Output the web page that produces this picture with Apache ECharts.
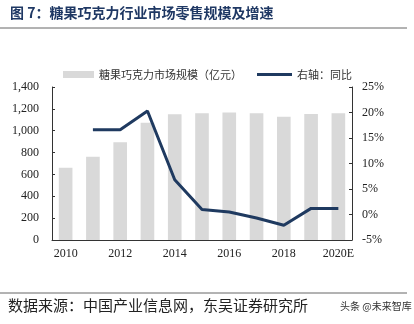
<!DOCTYPE html>
<html><head><meta charset="utf-8">
<script src="https://cdn.jsdelivr.net/npm/echarts@6/dist/echarts.min.js"></script>
<style>html,body{margin:0;padding:0;background:#fff}#c{width:414px;height:324px}</style>
</head><body><div id="c"></div>
<script>
const categories = ['2010','2011','2012','2013','2014','2015','2016','2017','2018','2019','2020E'];
const marketSize = [660, 762, 894, 1073, 1150, 1159, 1166, 1159, 1128, 1153, 1159];
const growth = [null, 16.6, 16.6, 20.3, 6.8, 1.0, 0.5, -0.7, -2.1, 1.2, 1.2];
const leftTicks = [0, 1400, 200];
const rightTicks = [-5, 25, 5];
const seriesNames = ['糖果巧克力市场规模（亿元）', '右轴：同比'];

const chart = echarts.init(document.getElementById('c'));
const serif = '"Liberation Serif","DejaVu Serif",serif';
const cjk = '"Noto Sans CJK SC",sans-serif';
const legendText = {fontFamily: cjk, fontSize: 11, color: '#333'};
chart.setOption({
  animation: false,
  legend: [{
    left: 58, top: 64, itemGap: 14,
    itemWidth: 31, itemHeight: 7,
    textStyle: legendText,
    data: [{name: seriesNames[0], icon: 'rect'}]
  }, {
    left: 252, top: 64,
    itemWidth: 35, itemHeight: 3,
    textStyle: legendText,
    data: [{name: seriesNames[1], icon: 'rect'}]
  }],
  grid: {left: 52, right: 62, top: 87, bottom: 84},
  xAxis: {
    type: 'category', data: categories,
    axisLine: {lineStyle: {color: '#333', width: 1}},
    axisTick: {inside: true, length: 4, lineStyle: {color: '#333'}},
    axisLabel: {interval: 1, fontFamily: serif, fontSize: 12, color: '#222', margin: 8}
  },
  yAxis: [{
    type: 'value', min: leftTicks[0], max: leftTicks[1], interval: leftTicks[2],
    splitLine: {show: false},
    axisLine: {show: true, lineStyle: {color: '#333'}},
    axisTick: {show: true, inside: true, length: 3, lineStyle: {color: '#333'}},
    axisLabel: {fontFamily: serif, fontSize: 12, color: '#222', margin: 13,
      formatter: v => v.toLocaleString('en-US')}
  }, {
    type: 'value', min: rightTicks[0], max: rightTicks[1], interval: rightTicks[2],
    splitLine: {show: false},
    axisLine: {show: true, lineStyle: {color: '#333'}},
    axisTick: {show: true, inside: true, length: 3, lineStyle: {color: '#333'}},
    axisLabel: {fontFamily: serif, fontSize: 12, color: '#222', margin: 10, formatter: '{value}%'}
  }],
  series: [{
    name: seriesNames[0], type: 'bar', data: marketSize, barWidth: '50%',
    itemStyle: {color: '#d9d9d9'}
  }, {
    name: seriesNames[1], type: 'line', yAxisIndex: 1, data: growth,
    symbol: 'none', lineStyle: {color: '#1f3a60', width: 3}, itemStyle: {color: '#1f3a60'}
  }],
  graphic: [
    {type: 'text', left: 10, top: 6, style: {text: '图 7：糖果巧克力行业市场零售规模及增速',
      font: 'bold 14px ' + cjk, fill: '#1f3864'}},
    {type: 'line', shape: {x1: 0, y1: 28, x2: 407, y2: 28}, style: {stroke: '#666', lineWidth: 1}},
    {type: 'line', shape: {x1: 0, y1: 293, x2: 407, y2: 293}, style: {stroke: '#666', lineWidth: 1}},
    {type: 'text', left: 8, top: 298, style: {text: '数据来源：中国产业信息网，东吴证券研究所',
      font: '15px ' + cjk, fill: '#222'}},
    {type: 'text', left: 340, top: 301, style: {text: '头条 @未来智库',
      font: '10px ' + cjk, fill: '#333'}}
  ]
});
</script></body></html>
